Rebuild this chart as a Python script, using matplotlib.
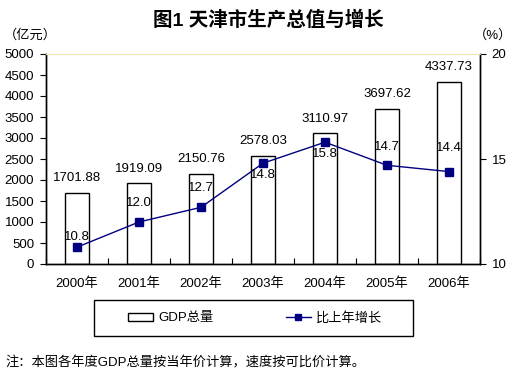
import matplotlib
matplotlib.use('Agg')
import matplotlib.pyplot as plt
from matplotlib.patches import Rectangle
from matplotlib.lines import Line2D

plt.rcParams['font.family'] = ['Liberation Sans', 'Noto Sans CJK SC', 'DejaVu Sans']

years = ['2000年', '2001年', '2002年', '2003年', '2004年', '2005年', '2006年']
gdp = [1701.88, 1919.09, 2150.76, 2578.03, 3110.97, 3697.62, 4337.73]
growth = [10.8, 12.0, 12.7, 14.8, 15.8, 14.7, 14.4]

navy = '#000080'
fs = 9.5

fig = plt.figure(figsize=(5.16, 3.77), dpi=100)
ax = fig.add_axes([46/516, 1-264/377, (480-46)/516, (264-54)/377])
ax2 = ax.twinx()

x = list(range(len(years)))
ax.bar(x, gdp, width=0.4, color='white', edgecolor='black', linewidth=1, zorder=2)
for i, v in enumerate(gdp):
    ax.annotate('%.2f' % v, (i, v), xytext=(0, 10.4), textcoords='offset points',
                ha='center', va='center', fontsize=fs)

ax2.plot(x, growth, color=navy, lw=1, marker='s', ms=5.5, zorder=3)
# label offsets in pixels, as placed in the source chart
label_dy = [10, 19, 19, -12, -12, 18, 24]
for i, v in enumerate(growth):
    ax2.annotate('%.1f' % v, (i, v), xytext=(0, label_dy[i] * 0.72),
                 textcoords='offset points', ha='center', va='center', fontsize=fs)

ax.set_xlim(-0.5, 6.5)
ax.set_ylim(0, 5000)
ax.set_yticks(range(0, 5001, 500))
ax2.set_ylim(10, 20)
ax2.set_yticks([10, 15, 20])

ax.set_xticks(x)
ax.set_xticklabels(years, fontsize=fs)
ax.set_xticks([i + 0.5 for i in range(-1, 7)], minor=True)
ax.tick_params(axis='x', which='major', length=0, pad=10)
ax.tick_params(axis='x', which='minor', direction='in', length=4, width=0.8)
ax.tick_params(axis='y', direction='out', length=4, width=0.8, labelsize=fs, pad=4.5)
ax2.tick_params(axis='y', direction='out', length=4, width=0.8, labelsize=fs, pad=4.5)

for a in (ax, ax2):
    for s in ('left', 'right', 'bottom'):
        a.spines[s].set_linewidth(1)
    a.spines['top'].set_color('#f0e8b0')
    a.spines['top'].set_linewidth(0.8)

fig.text(268/516, 1-20/377, '图1 天津市生产总值与增长', ha='center', va='center',
         fontsize=14, fontweight='bold')
fig.text(4/516, 1-35/377, '（亿元）', ha='left', va='center', fontsize=fs)
fig.text(512/516, 1-35/377, '（%）', ha='right', va='center', fontsize=fs)

fig.patches.append(Rectangle((94/516, 1-336/377), 319/516, 36/377,
                             transform=fig.transFigure, fill=False,
                             edgecolor='black', lw=1))
handles = [Rectangle((0, 0), 1, 1, facecolor='white', edgecolor='black', lw=1),
           Line2D([], [], color=navy, lw=1, marker='s', ms=5)]
fig.legend(handles, ['GDP总量', '比上年增长'], loc='center',
           bbox_to_anchor=(255/516, 1-318/377), ncol=2, frameon=False,
           fontsize=fs, handlelength=1.9, handleheight=0.6, handletextpad=0.4,
           columnspacing=5.5)

fig.text(5/516, 1-363/377, '注：本图各年度GDP总量按当年价计算，速度按可比价计算。',
         ha='left', va='center', fontsize=fs)

fig.savefig('out.png', dpi=100)
